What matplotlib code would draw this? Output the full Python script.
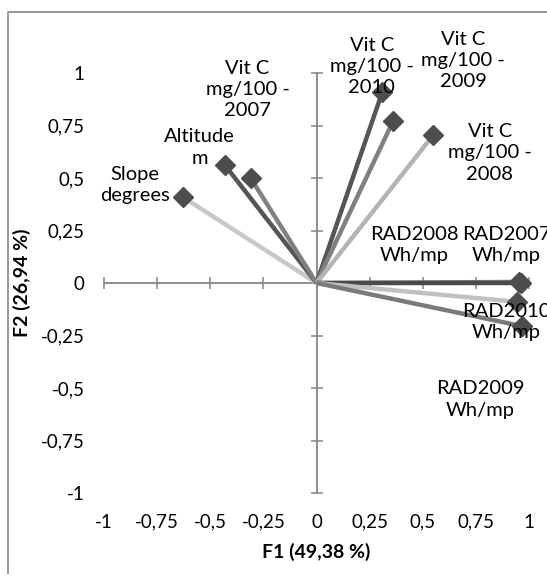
import matplotlib
matplotlib.use('Agg')
import matplotlib.pyplot as plt
from matplotlib.lines import Line2D

# loadings of the variables on F1 / F2
variables = ['Slope\ndegrees', 'Altitude\nm', 'Vit C\nmg/100 -\n2007',
             'Vit C\nmg/100 -\n2010', 'Vit C\nmg/100 -\n2009', 'Vit C\nmg/100 -\n2008',
             'RAD2008\nWh/mp', 'RAD2007\nWh/mp', 'RAD2010\nWh/mp', 'RAD2009\nWh/mp']
f1 = [-0.63, -0.43, -0.31, 0.31, 0.36, 0.55, 0.955, 0.96, 0.945, 0.965]
f2 = [0.41, 0.56, 0.50, 0.91, 0.77, 0.705, 0.005, 0.0, -0.09, -0.205]
line_cols = ['#c8c8c8', '#555555', '#808080', '#555555', '#808080', '#b4b4b4',
             '#808080', '#4a4a4a', '#c0c0c0', '#7a7a7a']
# where the data labels sit (data units)
lab_x = [-0.855, -0.55, -0.325, 0.26, 0.69, 0.815, 0.46, 0.895, 0.895, 0.77]
lab_y = [0.465, 0.645, 0.92, 1.03, 1.06, 0.62, 0.18, 0.18, -0.185, -0.555]

ticks = [-1, -0.75, -0.5, -0.25, 0, 0.25, 0.5, 0.75, 1]
tick_lab = ['-1', '-0,75', '-0,5', '-0,25', '0', '0,25', '0,5', '0,75', '1']

plt.rcParams['font.family'] = ['Lato', 'DejaVu Sans']
grey = '#868686'
fs_tick = 13.5
fs_lab = 14.5

fig = plt.figure(figsize=(5.47, 5.76), dpi=100)
rect = [104/547, 1 - 493/576, 425/547, 420/576]

# axes for the tick labels at the edges
axl = fig.add_axes(rect)
axl.set_xlim(-1, 1)
axl.set_ylim(-1, 1)
for s in axl.spines.values():
    s.set_visible(False)
axl.set_xticks(ticks)
axl.set_xticklabels(tick_lab, fontsize=fs_tick)
axl.set_yticks(ticks)
axl.set_yticklabels(tick_lab, fontsize=fs_tick)
axl.tick_params(length=0)
axl.tick_params(axis='x', pad=15)
axl.tick_params(axis='y', pad=14)
axl.set_xlabel('F1 (49,38 %)', fontsize=14, fontweight='bold', labelpad=9)
axl.set_ylabel('F2 (26,94 %)', fontsize=14, fontweight='bold')
# the F2 title sits partly over the tick labels, as in the original
axl.yaxis.set_label_coords(31/547, 1 - 283/576, transform=fig.transFigure)
axl.patch.set_visible(False)

# axes crossing at the origin
ax = fig.add_axes(rect)
ax.set_xlim(-1, 1)
ax.set_ylim(-1, 1)
ax.patch.set_visible(False)
for s in ['top', 'right']:
    ax.spines[s].set_visible(False)
for s in ['left', 'bottom']:
    ax.spines[s].set_position('zero')
    ax.spines[s].set_color(grey)
    ax.spines[s].set_linewidth(1.3)
ax.set_xticks(ticks)
ax.set_yticks(ticks)
ax.tick_params(direction='inout', length=9, width=1.1, color=grey,
               labelbottom=False, labelleft=False)

for i in range(len(variables)):
    ax.plot([0, f1[i]], [0, f2[i]], color=line_cols[i], lw=3.2,
            solid_capstyle='butt', zorder=3, clip_on=False)
for i in range(len(variables)):
    ax.plot(f1[i], f2[i], marker='D', ms=10, color='#4d4d4d', zorder=4, clip_on=False)
    ax.text(lab_x[i], lab_y[i], variables[i], fontsize=fs_lab, ha='center', va='center',
            linespacing=1.3, color='black', zorder=5)

# chart frame (left and top edges visible)
fig.add_artist(Line2D([8/547, 8/547, 1.0], [1 - 573/576, 1 - 12/576, 1 - 12/576],
                      transform=fig.transFigure, color=grey, lw=1.2))

fig.savefig('out.png', dpi=100)
